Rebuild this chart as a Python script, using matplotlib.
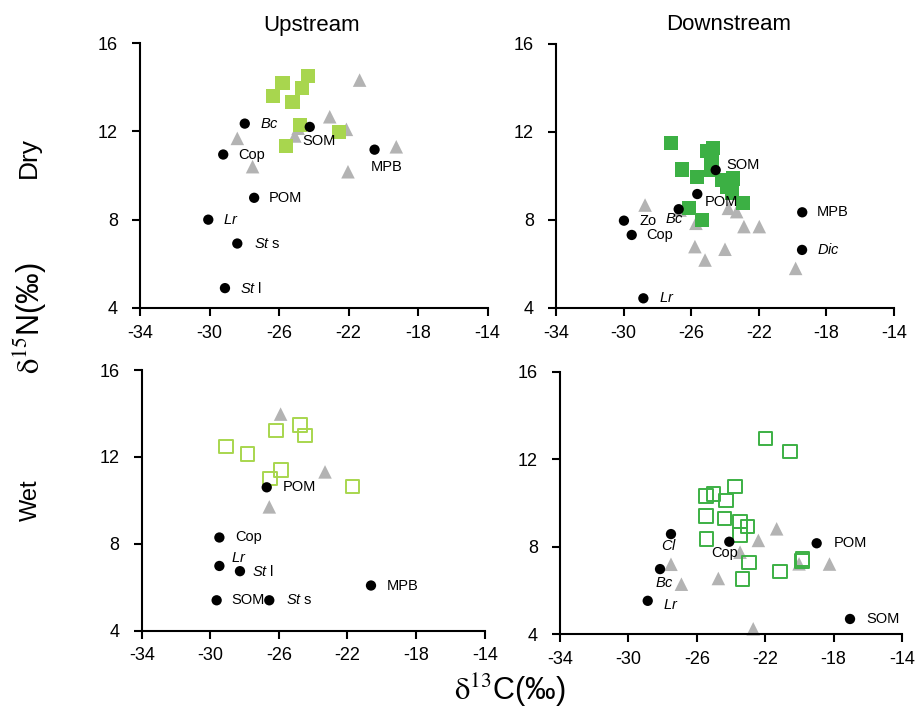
import matplotlib
matplotlib.use("Agg")
import matplotlib.pyplot as plt

plt.rcParams['font.family'] = ['Liberation Sans', 'DejaVu Sans']
plt.rcParams['mathtext.fontset'] = 'custom'
plt.rcParams['mathtext.rm'] = 'Liberation Sans'
plt.rcParams['mathtext.it'] = 'Liberation Sans:italic'

# ---------------- data: δ13C (x) and δ15N (y) ----------------
# Dry season, upstream
up_dry_src_names = [r'$\mathit{Bc}$', 'SOM', 'Cop', 'MPB', 'POM', r'$\mathit{Lr}$',
                    r'$\mathit{St}$ s', r'$\mathit{St}$ l']
up_dry_src_x = [-27.97, -24.23, -29.21, -20.50, -27.43, -30.07, -28.40, -29.11]
up_dry_src_y = [12.35, 12.20, 10.95, 11.17, 8.99, 8.00, 6.92, 4.90]
up_dry_fish_x = [-26.34, -25.80, -25.22, -24.69, -24.33, -24.80, -22.55, -25.60]
up_dry_fish_y = [13.60, 14.20, 13.34, 13.95, 14.50, 12.29, 11.98, 11.34]
up_dry_inv_x = [-21.36, -23.08, -22.12, -24.90, -25.09, -28.40, -27.52, -22.03, -19.25]
up_dry_inv_y = [14.32, 12.66, 12.09, 12.14, 11.79, 11.68, 10.40, 10.17, 11.30]

# Dry season, downstream
dn_dry_src_names = ['SOM', 'POM', r'$\mathit{Bc}$', 'Zo', 'Cop', 'MPB', r'$\mathit{Dic}$', r'$\mathit{Lr}$']
dn_dry_src_x = [-24.55, -25.64, -26.74, -29.98, -29.52, -19.43, -19.44, -28.83]
dn_dry_src_y = [10.27, 9.18, 8.49, 7.97, 7.32, 8.35, 6.64, 4.44]
dn_dry_fish_x = [-27.20, -26.56, -25.67, -25.05, -24.69, -24.80, -24.85, -24.20,
                 -23.51, -23.90, -23.60, -22.92, -26.11, -25.38]
dn_dry_fish_y = [11.49, 10.30, 9.94, 11.15, 11.26, 10.80, 10.27, 9.82,
                 9.89, 9.51, 9.21, 8.79, 8.53, 8.00]
dn_dry_inv_x = [-28.73, -26.66, -25.72, -23.80, -23.31, -22.88, -21.97, -25.78, -24.00, -25.18, -19.82]
dn_dry_inv_y = [8.68, 8.45, 7.85, 8.53, 8.38, 7.70, 7.70, 6.79, 6.67, 6.18, 5.80]

# Wet season, upstream
up_wet_src_names = ['POM', 'Cop', r'$\mathit{Lr}$', r'$\mathit{St}$ l', 'SOM', r'$\mathit{St}$ s', 'MPB']
up_wet_src_x = [-26.71, -29.47, -29.47, -28.27, -29.63, -26.56, -20.63]
up_wet_src_y = [10.60, 8.29, 6.98, 6.74, 5.40, 5.40, 6.08]
up_wet_fish_x = [-29.08, -27.84, -26.17, -24.77, -24.48, -25.88, -26.52, -21.70]
up_wet_fish_y = [12.47, 12.13, 13.20, 13.47, 13.00, 11.39, 11.01, 10.65]
up_wet_inv_x = [-25.90, -23.31, -26.56]
up_wet_inv_y = [13.97, 11.31, 9.70]

# Wet season, downstream
dn_wet_src_names = [r'$\mathit{Cl}$', 'Cop', 'POM', r'$\mathit{Bc}$', r'$\mathit{Lr}$', 'SOM']
dn_wet_src_x = [-27.51, -24.10, -18.99, -28.15, -28.87, -17.04]
dn_wet_src_y = [8.58, 8.23, 8.16, 6.98, 5.53, 4.70]
dn_wet_fish_x = [-22.00, -20.55, -23.77, -25.46, -25.03, -24.29, -25.46, -24.39,
                 -23.47, -23.05, -23.47, -25.42, -22.95, -19.81, -19.85, -21.13, -23.32]
dn_wet_fish_y = [12.96, 12.34, 10.74, 10.32, 10.41, 10.10, 9.40, 9.30,
                 9.14, 8.92, 8.54, 8.35, 7.29, 7.44, 7.35, 6.86, 6.53]
dn_wet_inv_x = [-27.51, -26.90, -24.74, -23.47, -22.40, -21.33, -20.02, -18.24, -22.70]
dn_wet_inv_y = [7.20, 6.29, 6.55, 7.75, 8.29, 8.82, 7.22, 7.21, 4.25]

x_ticks = [-34, -30, -26, -22, -18, -14]
y_ticks = [4, 8, 12, 16]

# label offsets (pixels) relative to each source point
up_dry_offsets = [(15, 0), (-7, -14), (15, 0), (-4, -17), (15, 0), (15, 0), (17, 0), (15, 0)]
dn_dry_offsets = [(11, 5), (7, -8), (-14, -10), (16, 0), (15, 0), (15, 0), (15, 0), (16, 0)]
up_wet_offsets = [(16, 0), (16, 0), (12, 8), (12, 0), (15, 0), (17, 0), (16, 0)]
dn_wet_offsets = [(-10, -11), (-18, -11), (17, 0), (-5, -14), (15, -4), (16, 0)]

LIGHT_GREEN = '#a8d64e'
DARK_GREEN = '#3cb044'
GREY = '#b3b3b3'

W, H = 915, 715
fig = plt.figure(figsize=(W / 100, H / 100), dpi=100)


def make_axes(left, right, top, bottom):
    return fig.add_axes([left / W, 1 - bottom / H, (right - left) / W, (bottom - top) / H])


def style(ax):
    ax.set_xlim(-34, -14)
    ax.set_ylim(4, 16)
    ax.set_xticks(x_ticks)
    ax.set_yticks(y_ticks)
    ax.set_xticklabels([str(v) for v in x_ticks])
    ax.set_yticklabels([str(v) for v in y_ticks])
    for s in ('top', 'right'):
        ax.spines[s].set_visible(False)
    for s in ('left', 'bottom'):
        ax.spines[s].set_linewidth(1.5)
    ax.tick_params(axis='both', direction='out', length=6, width=1.5, labelsize=13)
    ax.tick_params(axis='y', pad=10)
    ax.tick_params(axis='x', pad=6)
    ax.patch.set_alpha(0)


def panel(ax, src_x, src_y, names, offsets, fish_x, fish_y, inv_x, inv_y, color, hollow):
    ax.scatter(inv_x, inv_y, marker='^', s=95, color=GREY, edgecolors='none', zorder=2, clip_on=False)
    if hollow:
        ax.scatter(fish_x, fish_y, marker='s', s=92, facecolors='none', edgecolors=color,
                   linewidths=1.4, zorder=3, clip_on=False)
    else:
        ax.scatter(fish_x, fish_y, marker='s', s=105, color=color, edgecolors='none', zorder=3,
                   clip_on=False)
    ax.scatter(src_x, src_y, marker='o', s=55, color='black', edgecolors='none', zorder=4,
               clip_on=False)
    for x, y, n, (dx, dy) in zip(src_x, src_y, names, offsets):
        ax.annotate(n, (x, y), xytext=(dx, dy), textcoords='offset pixels',
                    ha='left', va='center', fontsize=10.5, zorder=5)
    style(ax)


ax_tl = make_axes(140, 487.5, 43, 308)
ax_tr = make_axes(556, 894, 44, 308)
ax_bl = make_axes(141.7, 484.7, 370, 630.7)
ax_br = make_axes(560, 902, 371.7, 634.3)

panel(ax_tl, up_dry_src_x, up_dry_src_y, up_dry_src_names, up_dry_offsets,
      up_dry_fish_x, up_dry_fish_y, up_dry_inv_x, up_dry_inv_y, LIGHT_GREEN, False)
panel(ax_tr, dn_dry_src_x, dn_dry_src_y, dn_dry_src_names, dn_dry_offsets,
      dn_dry_fish_x, dn_dry_fish_y, dn_dry_inv_x, dn_dry_inv_y, DARK_GREEN, False)
panel(ax_bl, up_wet_src_x, up_wet_src_y, up_wet_src_names, up_wet_offsets,
      up_wet_fish_x, up_wet_fish_y, up_wet_inv_x, up_wet_inv_y, LIGHT_GREEN, True)
panel(ax_br, dn_wet_src_x, dn_wet_src_y, dn_wet_src_names, dn_wet_offsets,
      dn_wet_fish_x, dn_wet_fish_y, dn_wet_inv_x, dn_wet_inv_y, DARK_GREEN, True)

# column and row headings
fig.text(312 / W, 1 - 25 / H, 'Upstream', ha='center', va='center', fontsize=16)
fig.text(729 / W, 1 - 25 / H, 'Downstream', ha='center', va='center', fontsize=16)
fig.text(29 / W, 1 - 157 / H, 'Dry', ha='center', va='center', fontsize=19, rotation=90)
fig.text(31 / W, 1 - 500 / H, 'Wet', ha='center', va='center', fontsize=17, rotation=90)

# shared axis titles
fig.text(510 / W, 1 - 690 / H, r'$\mathrm{\delta}^{13}$C(‰)', ha='center', va='center',
         fontsize=22, math_fontfamily='stix')
fig.text(30 / W, 1 - 318 / H, r'$\mathrm{\delta}^{15}$N(‰)', ha='center', va='center',
         fontsize=22, rotation=90, math_fontfamily='stix')

fig.savefig('out.png', dpi=100)
